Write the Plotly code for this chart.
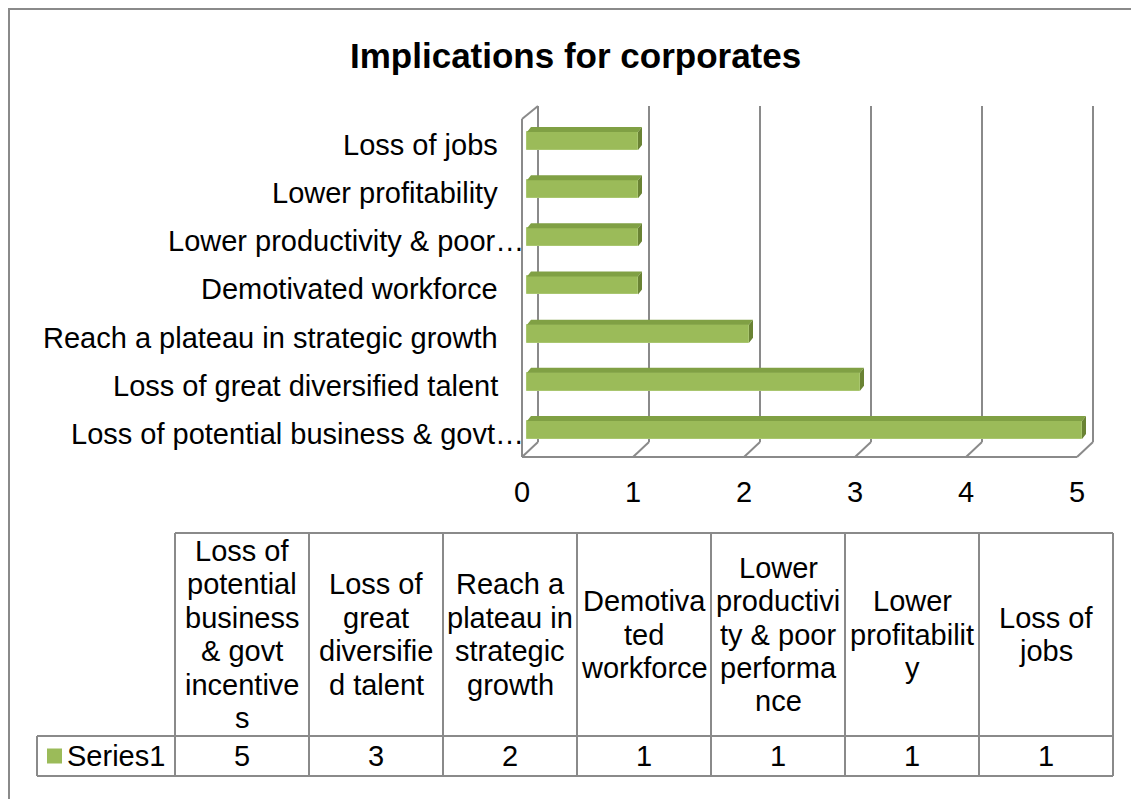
import plotly.graph_objects as go

# ---------------- data ----------------
categories = [
    "Loss of potential business & govt incentives",
    "Loss of great diversified talent",
    "Reach a plateau in strategic growth",
    "Demotivated workforce",
    "Lower productivity & poor performance",
    "Lower profitability",
    "Loss of jobs",
]
values = [5, 3, 2, 1, 1, 1, 1]
axis_labels = [
    "Loss of potential business & govt…",
    "Loss of great diversified talent",
    "Reach a plateau in strategic growth",
    "Demotivated workforce",
    "Lower productivity & poor…",
    "Lower profitability",
    "Loss of jobs",
]
table_headers = [
    "Loss of\npotential\nbusiness\n& govt\nincentive\ns",
    "Loss of\ngreat\ndiversifie\nd talent",
    "Reach a\nplateau in\nstrategic\ngrowth",
    "Demotiva\nted\nworkforce",
    "Lower\nproductivi\nty & poor\nperforma\nnce",
    "Lower\nprofitabilit\ny",
    "Loss of\njobs",
]
x_ticks = [0, 1, 2, 3, 4, 5]
series_name = "Series1"
title_text = "Implications for corporates"

# ---------------- geometry / style ----------------
W, H = 1139, 799
OFF = 8                    # page body margin (figure starts at screen 8,8)
X0, UX = 522.0, 111.0      # screen pixel of value 0 on the front plane, pixels per unit
Y0, UY = 430.0, 48.17      # screen pixel of first category centre, pixels per category

def dx(px):
    return (px - X0) / UX

def dy(py):
    return (Y0 - py) / UY

def P(px, py):
    return (px - OFF) / W, 1 - (py - OFF) / H

FONT = "Liberation Sans, Arial, Helvetica, sans-serif"
FS = 29
GRID = "#8A8A8A"
GREEN = "#9BBB59"
GREEN_TOP = "#80A044"
GREEN_SIDE = "#6A8334"

DEPTH_X = 16 / UX
FRONT_FLOOR = dy(457)
BACK_FLOOR = dy(442)
TOP = dy(106)
LEFT_TOP_FRONT = dy(119)

BAR_OFF = 5 / UX
BAR_W = 18 / UY
BD_X = 4 / UX
BD_Y = 5 / UY

fig = go.Figure()

ys = list(range(len(values)))

# front faces of bars
fig.add_trace(go.Bar(
    x=values, y=ys, base=BAR_OFF, orientation="h", width=BAR_W,
    marker=dict(color=GREEN, line=dict(color="#A9C66F", width=1)),
    hoverinfo="skip", showlegend=False,
))

# top and side faces
top_x, top_y, side_x, side_y = [], [], [], []
for i, v in zip(ys, values):
    b0, b1 = BAR_OFF, BAR_OFF + v
    yt, yb = i + BAR_W / 2, i - BAR_W / 2
    top_x += [b0, b0 + BD_X, b1 + BD_X, b1, b0, None]
    top_y += [yt, yt + BD_Y, yt + BD_Y, yt, yt, None]
    side_x += [b1, b1, b1 + BD_X, b1 + BD_X, b1, None]
    side_y += [yb, yt, yt + BD_Y, yb + BD_Y, yb, None]
fig.add_trace(go.Scatter(x=top_x, y=top_y, mode="lines", fill="toself",
                         fillcolor=GREEN_TOP, line=dict(width=0, color=GREEN_TOP),
                         hoverinfo="skip", showlegend=False))
fig.add_trace(go.Scatter(x=side_x, y=side_y, mode="lines", fill="toself",
                         fillcolor=GREEN_SIDE, line=dict(width=0, color=GREEN_SIDE),
                         hoverinfo="skip", showlegend=False))

shapes = []

def dline(x0, y0, x1, y1, color=GRID, width=2):
    shapes.append(dict(type="line", xref="x", yref="y", x0=x0, y0=y0, x1=x1, y1=y1,
                       line=dict(color=color, width=width), layer="below"))

# walls / gridlines
for t in x_ticks:
    dline(t + DEPTH_X, BACK_FLOOR, t + DEPTH_X, TOP)
    dline(t + DEPTH_X, BACK_FLOOR, t, FRONT_FLOOR)
dline(x_ticks[0], FRONT_FLOOR, x_ticks[-1], FRONT_FLOOR)
dline(x_ticks[0], FRONT_FLOOR, x_ticks[0], LEFT_TOP_FRONT)
dline(x_ticks[0], LEFT_TOP_FRONT, x_ticks[0] + DEPTH_X, TOP)

annotations = []

# x tick labels
for t in x_ticks:
    annotations.append(dict(x=t, y=dy(492), xref="x", yref="y", text=str(t),
                            showarrow=False, xanchor="center", yanchor="middle",
                            font=dict(family=FONT, size=FS, color="#000")))

# category labels (truncated labels let the ellipsis overhang the axis edge)
for i, lab in zip(ys, axis_labels):
    right = 500 + (26 if lab.endswith("…") else 0)
    annotations.append(dict(x=dx(right), y=i - 4 / UY, xref="x", yref="y", text=lab,
                            showarrow=False, xanchor="right", yanchor="middle",
                            font=dict(family=FONT, size=FS, color="#000")))

# title
tx, ty = P(575, 55)
annotations.append(dict(x=tx, y=ty, xref="paper", yref="paper",
                        text="<b>" + title_text + "</b>", showarrow=False,
                        xanchor="center", yanchor="middle",
                        font=dict(family=FONT, size=35, color="#000")))

# ---------------- data table ----------------
TBL_LEFT, COL_W = 175, 134
HEADER_TOP, ROW_TOP, ROW_BOT = 533, 736, 776
LEG_LEFT = 37
LINE_H = 33.4
ncol = len(categories)
TBL_RIGHT = TBL_LEFT + COL_W * ncol

def pline(x0, y0, x1, y1, color=GRID, width=2):
    a, b = P(x0, y0)
    c, d = P(x1, y1)
    shapes.append(dict(type="line", xref="paper", yref="paper", x0=a, y0=b, x1=c, y1=d,
                       line=dict(color=color, width=width)))

pline(TBL_LEFT, HEADER_TOP, TBL_RIGHT, HEADER_TOP)
pline(LEG_LEFT, ROW_TOP, TBL_RIGHT, ROW_TOP)
pline(LEG_LEFT, ROW_BOT, TBL_RIGHT, ROW_BOT)
pline(LEG_LEFT, ROW_TOP, LEG_LEFT, ROW_BOT)
for k in range(ncol + 1):
    xk = TBL_LEFT + COL_W * k
    pline(xk, HEADER_TOP, xk, ROW_BOT)

hc = (HEADER_TOP + ROW_TOP) / 2
rc = (ROW_TOP + ROW_BOT) / 2
for k, (hdr, v) in enumerate(zip(table_headers, values)):
    cx = TBL_LEFT + COL_W * (k + 0.5)
    lines = hdr.split("\n")
    n = len(lines)
    for j, ln in enumerate(lines):
        ly = hc + (j - (n - 1) / 2) * LINE_H
        ax, ay = P(cx, ly)
        annotations.append(dict(x=ax, y=ay, xref="paper", yref="paper", text=ln,
                                showarrow=False, xanchor="center", yanchor="middle",
                                font=dict(family=FONT, size=FS, color="#000")))
    ax, ay = P(cx, rc)
    annotations.append(dict(x=ax, y=ay, xref="paper", yref="paper", text=str(v),
                            showarrow=False, xanchor="center", yanchor="middle",
                            font=dict(family=FONT, size=FS, color="#000")))

# legend key
a, b = P(47, rc - 7.5)
c, d = P(62, rc + 7.5)
shapes.append(dict(type="rect", xref="paper", yref="paper", x0=a, y0=b, x1=c, y1=d,
                   fillcolor=GREEN, line=dict(width=0)))
ax, ay = P(65, rc)
annotations.append(dict(x=ax, y=ay, xref="paper", yref="paper", text=series_name,
                        showarrow=False, xanchor="left", yanchor="middle",
                        font=dict(family=FONT, size=FS, color="#000")))

# outer chart border
a, b = P(9, 9)
shapes.append(dict(type="rect", xref="paper", yref="paper", x0=a, y0=b, x1=1.02, y1=-0.02,
                   line=dict(color=GRID, width=2), fillcolor="rgba(0,0,0,0)"))

fig.update_layout(
    width=W, height=H,
    margin=dict(l=0, r=0, t=0, b=0),
    paper_bgcolor="white", plot_bgcolor="white",
    xaxis=dict(range=[dx(OFF), dx(OFF + W)], visible=False, domain=[0, 1]),
    yaxis=dict(range=[dy(OFF + H), dy(OFF)], visible=False, domain=[0, 1]),
    shapes=shapes, annotations=annotations,
    showlegend=False, bargap=0,
)

fig.write_html("out.html")
